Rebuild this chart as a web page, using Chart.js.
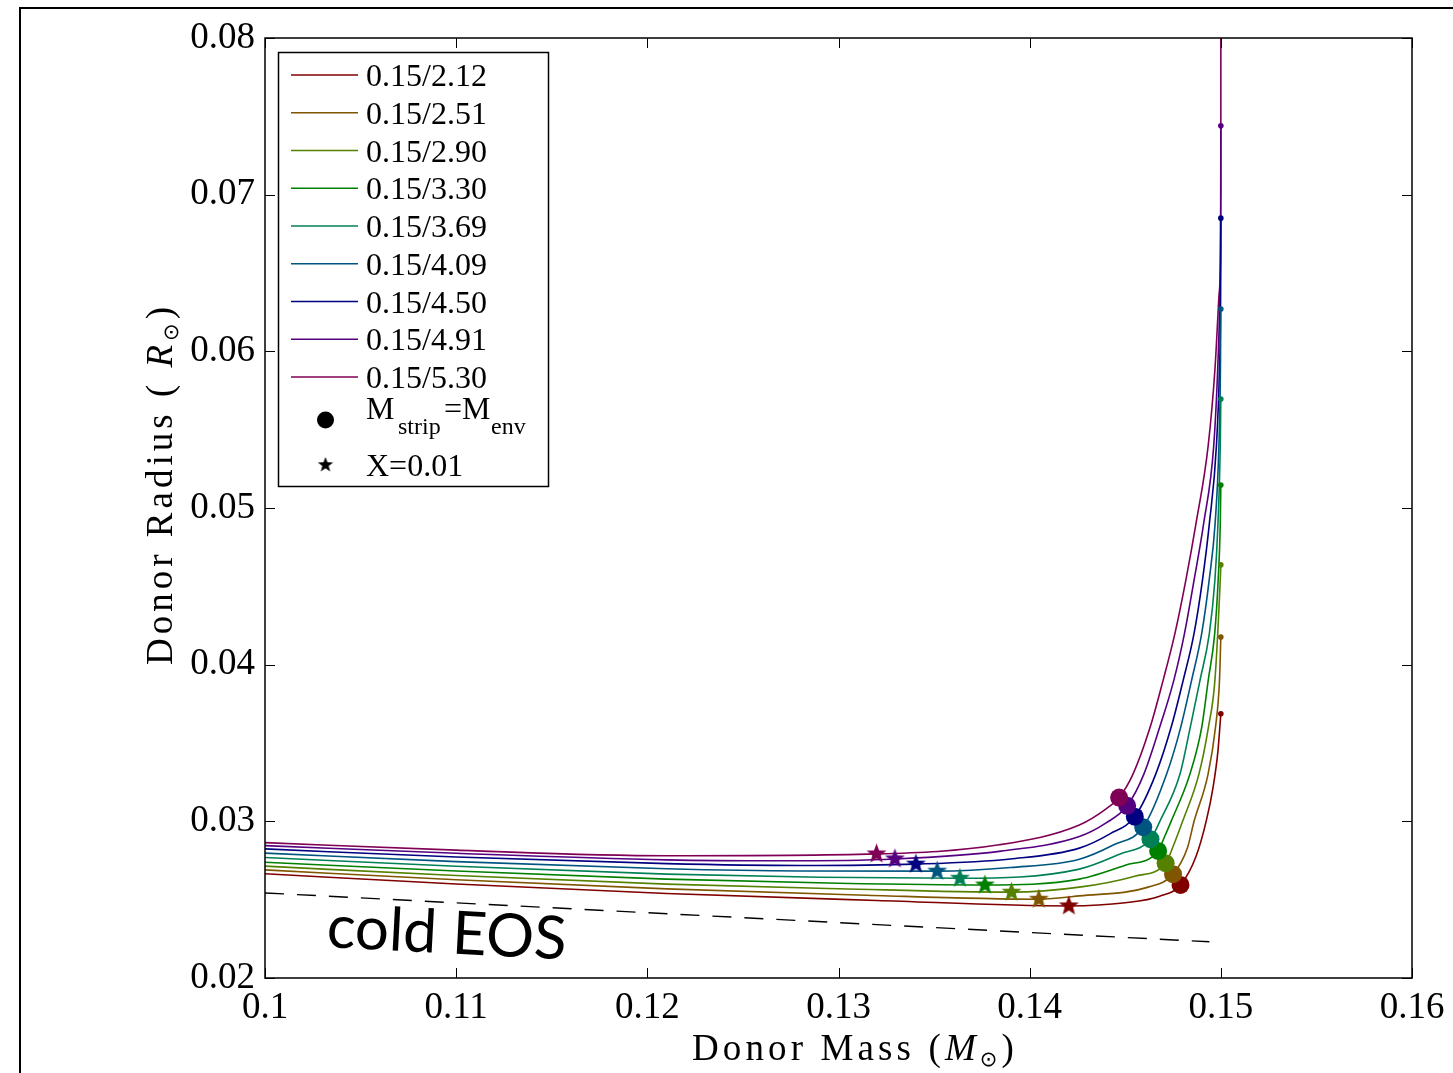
<!DOCTYPE html>
<html>
<head>
<meta charset="utf-8">
<script src="https://cdn.jsdelivr.net/npm/chart.js@4.4.0/dist/chart.umd.min.js"></script>
<style>
  html, body { margin: 0; padding: 0; background: #fff; }
  #wrap { position: relative; width: 1453px; height: 1073px; }
</style>
</head>
<body>
<div id="wrap"><canvas id="donorChart" width="1453" height="1073"></canvas></div>
<script>
// axis ticks
const massTicks = [0.10, 0.11, 0.12, 0.13, 0.14, 0.15, 0.16];
const massTickLabels = ['0.1', '0.11', '0.12', '0.13', '0.14', '0.15', '0.16'];
const radiusTicks = [0.02, 0.03, 0.04, 0.05, 0.06, 0.07, 0.08];
const radiusTickLabels = ['0.02', '0.03', '0.04', '0.05', '0.06', '0.07', '0.08'];

// series
const seriesLabels = ['0.15/2.12', '0.15/2.51', '0.15/2.90', '0.15/3.30', '0.15/3.69',
                      '0.15/4.09', '0.15/4.50', '0.15/4.91', '0.15/5.30'];
const seriesColors = ['#800000', '#805500', '#558000', '#008000', '#008055',
                      '#005580', '#000080', '#550080', '#800055'];

// tracks: [donor mass, donor radius], mass increasing (last point = start of track)
const track212 = [[0.100, 0.02665], [0.110, 0.02600], [0.121, 0.02539], [0.132, 0.02495], [0.14205, 0.02460],
  [0.1450, 0.02480], [0.1468, 0.02522], [0.14789, 0.02594], [0.1487, 0.02775], [0.14925, 0.03009],
  [0.1496, 0.03222], [0.14985, 0.0345], [0.1500, 0.03686]];
const track251 = [[0.100, 0.02690], [0.110, 0.02627], [0.121, 0.02569], [0.131, 0.02530], [0.14048, 0.02503],
  [0.1426, 0.02524], [0.1462, 0.02580], [0.14750, 0.02663], [0.14825, 0.0283], [0.1486, 0.0300],
  [0.14933, 0.0330], [0.14972, 0.0360], [0.14993, 0.0390], [0.1500, 0.04177]];
const track290 = [[0.100, 0.02714], [0.110, 0.02654], [0.121, 0.02599], [0.130, 0.02570], [0.13905, 0.02548],
  [0.1426, 0.02580], [0.1455, 0.02650], [0.14711, 0.02733], [0.1476, 0.0287], [0.1480, 0.0300],
  [0.14885, 0.0330], [0.14935, 0.0360], [0.14969, 0.0390], [0.14997, 0.0454], [0.1500, 0.04637]];
const track330 = [[0.100, 0.02739], [0.110, 0.02683], [0.121, 0.02631], [0.130, 0.02605], [0.13766, 0.02594],
  [0.1426, 0.02631], [0.1450, 0.02720], [0.14672, 0.02811], [0.14705, 0.0290], [0.1474, 0.0300],
  [0.14838, 0.0330], [0.1490, 0.0360], [0.14934, 0.0390], [0.14968, 0.0420], [0.14986, 0.0454],
  [0.14997, 0.0490], [0.1500, 0.05147]];
const track369 = [[0.100, 0.02769], [0.110, 0.02713], [0.121, 0.02663], [0.129, 0.02643], [0.13635, 0.02637],
  [0.1426, 0.02695], [0.1447, 0.02790], [0.14632, 0.02886], [0.14681, 0.0300], [0.14786, 0.0330],
  [0.1484, 0.0360], [0.14891, 0.0390], [0.1494, 0.0420], [0.14969, 0.0454], [0.14985, 0.0490],
  [0.14997, 0.0540], [0.1500, 0.05696]];
const track409 = [[0.100, 0.02797], [0.110, 0.02743], [0.121, 0.02697], [0.128, 0.02683], [0.13516, 0.02682],
  [0.1390, 0.02705], [0.1426, 0.02758], [0.1444, 0.02850], [0.14594, 0.02963], [0.14716, 0.0330],
  [0.1479, 0.0360], [0.14847, 0.0390], [0.1490, 0.0420], [0.14939, 0.0454], [0.1497, 0.0490],
  [0.1499, 0.0540], [0.14998, 0.0590], [0.1500, 0.0627]];
const track450 = [[0.100, 0.02824], [0.110, 0.02772], [0.121, 0.02730], [0.128, 0.02718], [0.13405, 0.02727],
  [0.1390, 0.02760], [0.1426, 0.02829], [0.1442, 0.02920], [0.14550, 0.03030], [0.14659, 0.0330],
  [0.1474, 0.0360], [0.14803, 0.0390], [0.1486, 0.0420], [0.14904, 0.0454], [0.1494, 0.0490],
  [0.14977, 0.0540], [0.14993, 0.0590], [0.14999, 0.0640], [0.1500, 0.0685]];
const track491 = [[0.100, 0.02845], [0.110, 0.02796], [0.121, 0.02754], [0.127, 0.02748], [0.13295, 0.02760],
  [0.1385, 0.02810], [0.1426, 0.02903], [0.1440, 0.02990], [0.14510, 0.03099], [0.14597, 0.0330],
  [0.1468, 0.0360], [0.14754, 0.0390], [0.1481, 0.0420], [0.1486, 0.0454], [0.1491, 0.0490],
  [0.14963, 0.0540], [0.14984, 0.0590], [0.14995, 0.0635], [0.14999, 0.0680], [0.1500, 0.0744]];
const track530 = [[0.100, 0.02864], [0.110, 0.02816], [0.121, 0.02780], [0.13199, 0.02792], [0.1384, 0.02850],
  [0.1426, 0.02977], [0.1440, 0.03080], [0.14468, 0.03152], [0.1454, 0.0330], [0.1463, 0.0360],
  [0.14698, 0.0390], [0.1476, 0.0420], [0.14817, 0.0454], [0.1487, 0.0490], [0.14934, 0.0540],
  [0.1497, 0.0590], [0.1499, 0.0635], [0.14998, 0.0660], [0.1500, 0.0700], [0.1500, 0.0830]];
const tracks = [track212, track251, track290, track330, track369, track409, track450, track491, track530];

// M_strip = M_env points
const stripMass = [0.14789, 0.14750, 0.14711, 0.14672, 0.14632, 0.14594, 0.14550, 0.14510, 0.14468];
const stripRadius = [0.02594, 0.02663, 0.02733, 0.02811, 0.02886, 0.02963, 0.03030, 0.03099, 0.03152];
// X = 0.01 points
const starMass = [0.14205, 0.14048, 0.13905, 0.13766, 0.13635, 0.13516, 0.13405, 0.13295, 0.13199];
const starRadius = [0.02460, 0.02503, 0.02548, 0.02594, 0.02637, 0.02682, 0.02727, 0.02760, 0.02792];
// cold EOS line
const coldMass = [0.100, 0.1494];
const coldRadius = [0.02543, 0.02231];

const serif = '"Liberation Serif", "Times New Roman", serif';

function starImage(color, outer) {
    const c = document.createElement('canvas');
    const s = Math.ceil(outer * 2 + 4);
    c.width = c.height = s;
    const g = c.getContext('2d');
    g.translate(s / 2, s / 2);
    g.beginPath();
    for (let k = 0; k < 10; k++) {
        const r = k % 2 === 0 ? outer : outer * 0.42;
        const ang = -Math.PI / 2 + k * Math.PI / 5;
        g.lineTo(r * Math.cos(ang), r * Math.sin(ang));
    }
    g.closePath();
    g.fillStyle = color;
    g.fill();
    return c;
}

// draws pieces of text with stretched letter spacing to fill a width
function drawSpaced(ctx, parts, x0, y0, target) {
    let natural = 0, chars = 0;
    const widths = parts.map(p => {
        ctx.font = p.font;
        ctx.letterSpacing = '0px';
        const w = ctx.measureText(p.text).width;
        natural += w;
        chars += [...p.text].length;
        return w;
    });
    const sp = (target - natural) / chars;
    let x = x0;
    parts.forEach((p, i) => {
        ctx.font = p.font;
        ctx.letterSpacing = sp + 'px';
        ctx.fillText(p.text, x + (p.dx || 0), y0 + (p.dy || 0));
        x += widths[i] + sp * [...p.text].length + (p.dx || 0);
    });
    ctx.letterSpacing = '0px';
}

const decorations = {
    id: 'decorations',
    afterDraw(chart) {
        const { ctx, chartArea: a, scales: { x, y } } = chart;
        ctx.save();
        ctx.strokeStyle = '#000';
        ctx.fillStyle = '#000';

        // outer figure frame
        ctx.lineWidth = 2;
        ctx.beginPath();
        ctx.moveTo(20, 1073); ctx.lineTo(20, 8); ctx.lineTo(1453, 8);
        ctx.stroke();

        // plot box and inward ticks
        ctx.lineWidth = 1.5;
        ctx.strokeRect(a.left, a.top, a.right - a.left, a.bottom - a.top);
        ctx.lineWidth = 1;
        const len = 10;
        ctx.beginPath();
        massTicks.forEach(v => {
            const px = Math.round(x.getPixelForValue(v)) + 0.5;
            ctx.moveTo(px, a.bottom); ctx.lineTo(px, a.bottom - len);
            ctx.moveTo(px, a.top); ctx.lineTo(px, a.top + len);
        });
        radiusTicks.forEach(v => {
            const py = Math.round(y.getPixelForValue(v)) + 0.5;
            ctx.moveTo(a.left, py); ctx.lineTo(a.left + len, py);
            ctx.moveTo(a.right, py); ctx.lineTo(a.right - len, py);
        });
        ctx.stroke();

        // cold EOS label
        ctx.save();
        ctx.translate(326, 947);
        ctx.rotate(3 * Math.PI / 180);
        ctx.font = '56px Lato';
        const w = ctx.measureText('cold EOS').width;
        ctx.font = (56 * 240 / w).toFixed(1) + 'px Lato';
        ctx.textBaseline = 'alphabetic';
        ctx.fillText('cold EOS', 0, 0);
        ctx.restore();

        // axis titles
        ctx.textBaseline = 'alphabetic';
        drawSpaced(ctx, [
            { text: 'Donor Mass (', font: '37px ' + serif },
            { text: 'M', font: 'italic 37px ' + serif },
            { text: '\u2299', font: '21px "DejaVu Sans"', dy: 6 },
            { text: ')', font: '37px ' + serif }
        ], 692, 1060, 326);
        ctx.save();
        ctx.translate(172, 665);
        ctx.rotate(-Math.PI / 2);
        drawSpaced(ctx, [
            { text: 'Donor Radius ( ', font: '37px ' + serif },
            { text: 'R', font: 'italic 37px ' + serif },
            { text: '\u2299', font: '21px "DejaVu Sans"', dy: 6 },
            { text: ')', font: '37px ' + serif }
        ], 0, 0, 362);
        ctx.restore();

        // legend
        ctx.fillStyle = '#fff';
        ctx.fillRect(278, 52, 270, 434);
        ctx.lineWidth = 1.5;
        ctx.strokeStyle = '#000';
        ctx.strokeRect(278.5, 52.5, 270, 434);
        ctx.font = '32px ' + serif;
        seriesLabels.forEach((lab, i) => {
            const ry = 75 + i * 37.75;
            ctx.strokeStyle = seriesColors[i];
            ctx.lineWidth = 1.5;
            ctx.beginPath();
            ctx.moveTo(291, ry); ctx.lineTo(358, ry);
            ctx.stroke();
            ctx.fillStyle = '#000';
            ctx.fillText(lab, 366, ry + 11);
        });
        ctx.fillStyle = '#000';
        ctx.beginPath();
        ctx.arc(325.5, 420, 8.5, 0, Math.PI * 2);
        ctx.fill();
        ctx.font = '32px ' + serif;
        ctx.fillText('M', 366, 419);
        ctx.font = '24px ' + serif;
        ctx.fillText('strip', 398, 434);
        ctx.font = '32px ' + serif;
        ctx.fillText('=M', 444, 419);
        ctx.font = '24px ' + serif;
        ctx.fillText('env', 491, 434);
        const legendStar = starImage('#000', 8);
        ctx.drawImage(legendStar, 325.5 - legendStar.width / 2, 465 - legendStar.height / 2);
        ctx.font = '32px ' + serif;
        ctx.fillText('X=0.01', 366, 476);
        ctx.restore();
    }
};

const trackDatasets = tracks.map((track, i) => ({
    label: seriesLabels[i],
    data: track.map(p => ({ x: p[0], y: p[1] })),
    borderColor: seriesColors[i],
    backgroundColor: seriesColors[i],
    borderWidth: 1.6,
    cubicInterpolationMode: 'monotone',
    pointRadius: ctx => ctx.dataIndex === track.length - 1 ? 2.8 : 0,
    pointBorderWidth: 0,
    order: 2
}));

const ctx = document.getElementById('donorChart').getContext('2d');
const donorChart = new Chart(ctx, {
    type: 'line',
    data: {
        datasets: [
            {
                label: 'M_strip=M_env',
                data: stripMass.map((m, i) => ({ x: m, y: stripRadius[i] })),
                showLine: false,
                pointRadius: 9,
                pointBorderWidth: 0,
                pointBackgroundColor: seriesColors,
                order: 0
            },
            {
                label: 'X=0.01',
                data: starMass.map((m, i) => ({ x: m, y: starRadius[i] })),
                showLine: false,
                pointStyle: seriesColors.map(c => starImage(c, 10.5)),
                order: 0
            },
            ...trackDatasets,
            {
                label: 'cold EOS',
                data: coldMass.map((m, i) => ({ x: m, y: coldRadius[i] })),
                borderColor: '#000',
                borderWidth: 1.4,
                borderDash: [19, 13],
                pointRadius: 0,
                order: 3
            }
        ]
    },
    options: {
        responsive: false,
        animation: false,
        devicePixelRatio: 1,
        layout: { padding: { left: 0, top: 38, right: 41, bottom: 0 } },
        plugins: { legend: { display: false }, tooltip: { enabled: false } },
        scales: {
            x: {
                type: 'linear',
                min: 0.1,
                max: 0.16,
                grid: { display: false, drawTicks: false },
                border: { display: false },
                afterBuildTicks: scale => { scale.ticks = massTicks.map(v => ({ value: v })); },
                afterFit: scale => { scale.height = 95; },
                ticks: {
                    autoSkip: false,
                    maxRotation: 0,
                    padding: 8,
                    color: '#000',
                    font: { family: serif, size: 37 },
                    callback: (v, i) => massTickLabels[i]
                }
            },
            y: {
                type: 'linear',
                min: 0.02,
                max: 0.08,
                grid: { display: false, drawTicks: false },
                border: { display: false },
                afterBuildTicks: scale => { scale.ticks = radiusTicks.map(v => ({ value: v })); },
                afterFit: scale => { scale.width = 265; },
                ticks: {
                    autoSkip: false,
                    padding: 10,
                    color: '#000',
                    font: { family: serif, size: 37 },
                    callback: (v, i) => radiusTickLabels[i]
                }
            }
        }
    },
    plugins: [decorations]
});
</script>
</body>
</html>
